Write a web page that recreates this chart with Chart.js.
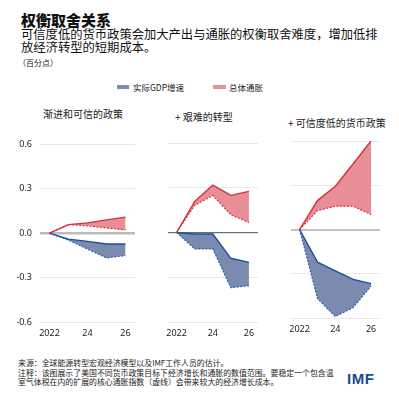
<!DOCTYPE html>
<html>
<head>
<meta charset="utf-8">
<script src="https://cdn.jsdelivr.net/npm/chart.js@4.4.0/dist/chart.umd.min.js"></script>
<style>
  html,body{margin:0;padding:0;background:#fff;}
  body{width:399px;height:399px;position:relative;overflow:hidden;font-family:"Noto Sans CJK SC","Noto Sans",sans-serif;color:#111;}
  .abs{position:absolute;white-space:nowrap;}
  canvas{position:absolute;}
</style>
</head>
<body>
<script>
const years = ['2022','2023','2024','2025','2026'];
const xTickLabels = ['2022','','24','','26'];
const yTicks = [-0.6,-0.3,0,0.3,0.6];
const seriesNames = ['实际GDP增速','总体通胀'];
const panelTitles = ['渐进和可信的政策','+ 艰难的转型','+ 可信度低的货币政策'];

const p1InflHigh = [0,0.058,0.07,0.09,0.109];
const p1InflLow  = [0,0.058,0.05,0.035,0.022];
const p1GdpHigh  = [0,-0.04,-0.055,-0.073,-0.073];
const p1GdpLow   = [0,-0.047,-0.107,-0.167,-0.151];

const p2InflHigh = [0,0.209,0.317,0.249,0.276];
const p2InflLow  = [0,0.182,0.249,0.119,0.067];
const p2GdpHigh  = [0,-0.01,-0.01,-0.173,-0.2];
const p2GdpLow   = [0,-0.11,-0.11,-0.37,-0.357];

const p3InflHigh = [0,0.196,0.293,0.446,0.601];
const p3InflLow  = [0,0.128,0.158,0.158,0.101];
const p3GdpHigh  = [0,-0.221,-0.281,-0.338,-0.367];
const p3GdpLow   = [0,-0.468,-0.59,-0.529,-0.383];
</script>

<div class="abs" style="left:21px;top:9px;font-size:15px;font-weight:900;">权衡取舍关系</div>
<div class="abs" style="left:21px;top:28px;font-size:12.3px;line-height:13px;">可信度低的货币政策会加大产出与通胀的权衡取舍难度，增加低排<br>放经济转型的短期成本。</div>
<div class="abs" style="left:18px;top:57px;font-size:8px;color:#222;">（百分点）</div>

<div class="abs" style="left:117px;top:85px;width:12px;height:4px;background:#7c8cb0;"></div>
<div class="abs" id="lg1" style="left:133px;top:81px;font-size:8.5px;color:#222;"></div>
<div class="abs" style="left:213px;top:85px;width:13px;height:4px;background:#e8919a;"></div>
<div class="abs" id="lg2" style="left:229px;top:81px;font-size:8.5px;color:#222;"></div>

<div class="abs" id="t1" style="left:43px;top:106px;font-size:10px;color:#222;"></div>
<div class="abs" id="t2" style="left:175px;top:109px;font-size:10px;color:#222;"></div>
<div class="abs" id="t3" style="left:288px;top:115px;font-size:10px;color:#222;"></div>

<canvas id="c1" width="128" height="210" style="left:10px;top:131px;width:128px;height:210px;"></canvas>
<canvas id="c2" width="101" height="203" style="left:160px;top:138px;width:101px;height:203px;"></canvas>
<canvas id="c3" width="100" height="201" style="left:283px;top:136px;width:100px;height:201px;"></canvas>

<div class="abs" style="left:18px;top:358px;font-size:7.9px;line-height:9.5px;color:#222;">来源：全球能源转型宏观经济模型以及IMF工作人员的估计。<br>注释：该图展示了美国不同货币政策目标下经济增长和通胀的数值范围。要稳定一个包含温<br>室气体税在内的扩展的核心通胀指数（虚线）会带来较大的经济增长成本。</div>
<div class="abs" style="left:347px;top:370px;font-size:15px;font-weight:bold;color:#1a4b96;font-family:'Liberation Sans',Arial,sans-serif;letter-spacing:0.5px;">IMF</div>

<script>
document.getElementById('lg1').textContent = seriesNames[0];
document.getElementById('lg2').textContent = seriesNames[1];
document.getElementById('t1').textContent = panelTitles[0];
document.getElementById('t2').textContent = panelTitles[1];
document.getElementById('t3').textContent = panelTitles[2];

const RED_LINE = '#d7303d', RED_FILL = 'rgba(229,132,142,0.92)';
const BLUE_LINE = '#1d4f9c', BLUE_DASH = '#2b62b0', BLUE_FILL = 'rgba(116,133,172,0.95)';

function makeChart(id, inflHigh, inflLow, gdpHigh, gdpLow, showY, zeroColor, zeroWidth, leftPad) {
  const ctx = document.getElementById(id).getContext('2d');
  return new Chart(ctx, {
    type: 'line',
    data: {
      labels: years,
      datasets: [
        {data: inflLow, borderColor: RED_LINE, borderWidth: 1.2, borderDash: [2,1.5], pointRadius: 0, fill: false, tension: 0},
        {data: inflHigh, borderColor: RED_LINE, borderWidth: 1.4, pointRadius: 0, fill: '-1', backgroundColor: RED_FILL, tension: 0},
        {data: gdpHigh, borderColor: BLUE_LINE, borderWidth: 1.4, pointRadius: 0, fill: false, tension: 0},
        {data: gdpLow, borderColor: BLUE_DASH, borderWidth: 1.2, borderDash: [2,1.5], pointRadius: 0, fill: '-1', backgroundColor: BLUE_FILL, tension: 0}
      ]
    },
    options: {
      responsive: false,
      animation: false,
      devicePixelRatio: 1,
      layout: {padding: {top: 5, right: 3, left: leftPad, bottom: 0}},
      plugins: {legend: {display: false}, tooltip: {enabled: false}},
      scales: {
        x: {
          offset: true,
          grid: {display: false, drawTicks: false},
          border: {display: false},
          afterFit: s => { s.height = 19; },
          ticks: {
            autoSkip: false, maxRotation: 0, padding: 6,
            color: '#222', font: {family: 'Noto Sans', size: 9},
            callback: (v, i) => xTickLabels[i]
          }
        },
        y: {
          min: -0.6, max: 0.6,
          afterBuildTicks: s => { s.ticks = yTicks.map(v => ({value: v})); },
          afterFit: s => { if (showY) s.width = 30; else s.width = 0; },
          grid: {
            drawTicks: false,
            color: c => Math.abs(c.tick.value) < 1e-9 ? zeroColor : '#eae9dd',
            lineWidth: c => Math.abs(c.tick.value) < 1e-9 ? zeroWidth : 1
          },
          border: {display: false},
          ticks: {
            display: showY, padding: 8,
            color: '#222', font: {family: 'Noto Sans', size: 9},
            callback: v => v.toFixed(1)
          }
        }
      }
    }
  });
}

makeChart('c1', p1InflHigh, p1InflLow, p1GdpHigh, p1GdpLow, true, '#bcbcbc', 2.5, 0);
makeChart('c2', p2InflHigh, p2InflLow, p2GdpHigh, p2GdpLow, false, '#6f6f6f', 1.3, 3);
makeChart('c3', p3InflHigh, p3InflLow, p3GdpHigh, p3GdpLow, false, '#c2c2c2', 2, 3);
</script>
</body>
</html>
